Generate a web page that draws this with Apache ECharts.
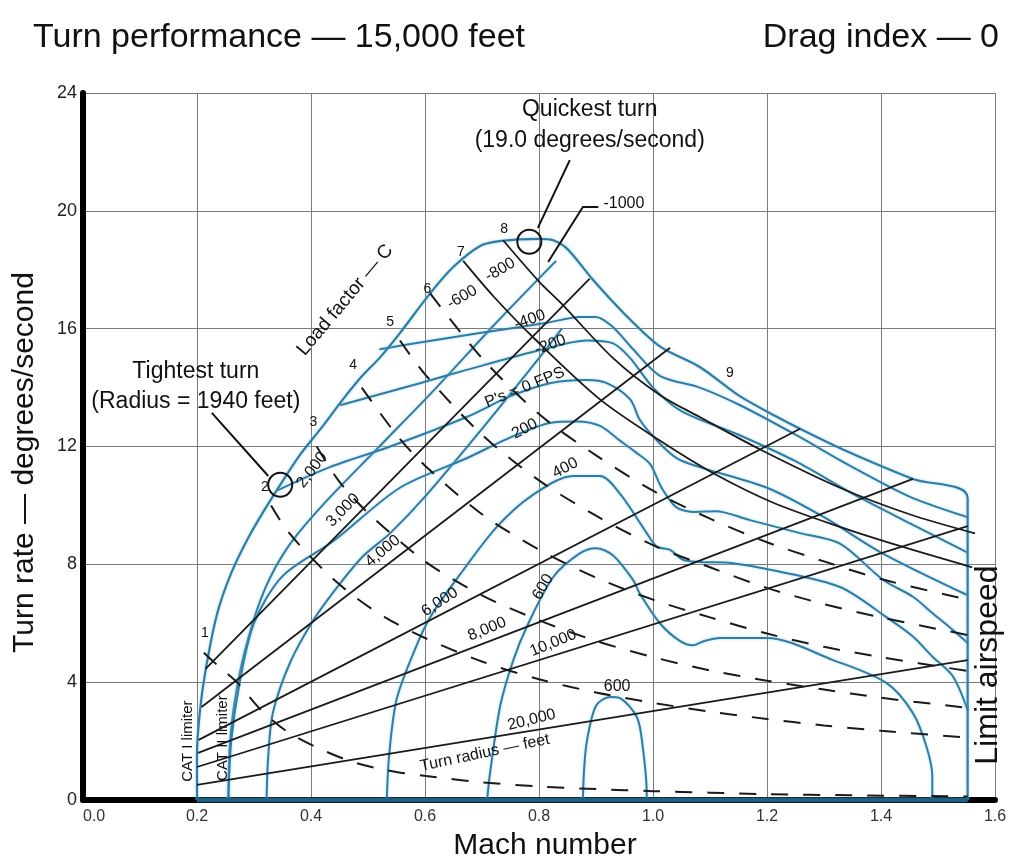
<!DOCTYPE html>
<html><head><meta charset="utf-8">
<script src="https://cdn.jsdelivr.net/npm/echarts/dist/echarts.min.js"></script>
<style>html,body{margin:0;padding:0;background:#fff}#chart{width:1014px;height:860px}</style>
</head><body><div id="chart"></div>
<script>
// Axis ticks
const machTicks = [0.0, 0.2, 0.4, 0.6, 0.8, 1.0, 1.2, 1.4, 1.6];
const rateTicks = [0, 4, 8, 12, 16, 20, 24];

// Maneuver envelope (lift limit, load-factor limit, limit airspeed)
const envelope = [[0.2,0],[0.2,1.5],[0.205,3],[0.215,4.4],[0.235,6.3],[0.26,7.7],[0.29,8.9],[0.32,9.9],[0.346,10.7],[0.38,11.7],[0.421,12.7],[0.456,13.6],[0.49,14.4],[0.52,15.0],[0.556,15.85],[0.609,17.2],[0.65,18.1],[0.696,18.8],[0.73,18.97],[0.8,19.05],[0.825,19.0],[0.85,18.7],[0.895,17.65],[0.95,16.5],[1.012,15.4],[1.082,14.7],[1.153,13.7],[1.218,13.0],[1.258,12.6],[1.333,11.9],[1.456,10.9],[1.552,10.25],[1.552,0]];
const floorLine = [[0.2,0],[1.552,0]];

// Specific excess power contours (ft/s)
const psM1000 = [[0.255,0],[0.258,2],[0.27,3.8],[0.29,5.5],[0.32,7.2],[0.36,8.6],[0.42,10.0],[0.52,12.0],[0.62,14.0],[0.72,16.1],[0.83,18.3]];
const psArc = [[0.322,0],[0.325,1.5],[0.333,2.95],[0.363,4.65],[0.404,6.1],[0.445,7.2],[0.49,8.25],[0.539,9.06],[0.6,10.3],[0.7,12.6],[0.8,15.0],[0.84,16.0]];
const psM400 = [[0.52,15.3],[0.58,15.5],[0.696,15.85],[0.814,16.2],[0.872,16.4],[0.9,16.4],[0.93,16.05],[0.965,15.3],[1.012,14.4],[1.082,14.0],[1.153,13.4],[1.25,12.4],[1.35,11.3],[1.45,10.3],[1.552,9.6]];
const psM200 = [[0.451,13.4],[0.591,14.15],[0.673,14.6],[0.807,15.3],[0.884,15.6],[0.93,15.5],[0.96,15.0],[1.0,14.0],[1.05,13.2],[1.15,12.4],[1.25,11.5],[1.35,10.4],[1.45,9.4],[1.552,8.4]];
const ps0 = [[0.34,10.5],[0.433,11.3],[0.539,12.0],[0.673,13.0],[0.749,13.7],[0.819,14.15],[0.884,14.26],[0.919,14.15],[0.96,13.6],[0.977,12.9],[1.012,12.1],[1.042,11.6],[1.082,11.3],[1.2,10.6],[1.3,9.6],[1.4,8.4],[1.552,6.95]];
const ps200 = [[0.255,0],[0.26,2],[0.275,4],[0.3,6.0],[0.35,7.6],[0.44,8.8],[0.556,10.6],[0.673,11.6],[0.749,12.3],[0.819,12.8],[0.867,12.85],[0.907,12.7],[0.942,12.2],[0.97,11.8],[0.995,11.4],[1.015,10.6],[1.04,9.95],[1.07,9.78],[1.11,9.8],[1.17,9.5],[1.258,9.06],[1.328,8.7],[1.404,7.47],[1.456,6.9],[1.49,6.35],[1.526,5.77],[1.552,5.33]];
const ps400 = [[0.533,0],[0.537,1.5],[0.55,3.4],[0.58,5.0],[0.609,6.2],[0.667,7.8],[0.726,9.27],[0.785,10.3],[0.86,11.0],[0.907,11.0],[0.942,10.4],[0.989,9.06],[1.007,8.6],[1.03,8.49],[1.053,8.15],[1.082,8.08],[1.14,8.04],[1.21,7.8],[1.328,7.23],[1.41,6.2],[1.456,5.55],[1.49,4.87],[1.526,4.2],[1.552,3.05]];
const ps600 = [[0.709,0],[0.714,0.9],[0.732,3.2],[0.755,4.75],[0.779,5.9],[0.825,7.57],[0.872,8.38],[0.9,8.55],[0.93,8.3],[0.965,7.47],[0.977,7.0],[1.012,6.0],[1.047,5.4],[1.07,5.25],[1.09,5.4],[1.118,5.5],[1.2,5.5],[1.316,4.75],[1.41,3.97],[1.456,2.95],[1.48,1.8],[1.49,0.8],[1.49,0]];
const ps600b = [[0.877,0],[0.879,1.0],[0.884,2.0],[0.9,3.2],[0.925,3.5],[0.942,3.46],[0.972,2.8],[0.982,1.8],[0.989,0.2],[0.989,0]];

// Constant turn-radius lines (feet)
const radius3000 = [[0.215,4.45],[0.889,17.7]];
const radius4000 = [[0.208,3.16],[1.03,15.35]];
const radius6000 = [[0.203,2.04],[1.258,12.6]];
const radius8000 = [[0.202,1.6],[1.456,10.9]];
const radius10000 = [[0.2,1.12],[1.552,9.3]];
const radius20000 = [[0.2,0.51],[1.552,4.75]];

// Load factor lines
const load8 = [[0.737,19.0],[0.8,17.6],[0.837,16.9],[0.93,15.0],[1.012,13.75],[1.082,13.0],[1.188,11.9],[1.328,10.6],[1.45,9.7],[1.565,9.05]];
const load7 = [[0.667,18.3],[0.72,17.1],[0.79,15.7],[0.907,13.6],[1.012,12.2],[1.105,11.1],[1.21,10.1],[1.328,9.27],[1.428,8.65],[1.56,7.9]];
const load6 = [[0.609,17.2],[0.7,15.0],[0.8,13.1],[0.9,11.7],[1.0,10.5],[1.1,9.55],[1.2,8.75],[1.3,8.1],[1.4,7.5],[1.552,6.8]];
const load5 = [[0.556,15.6],[0.6,14.45],[0.7,12.4],[0.8,10.85],[0.9,9.65],[1.0,8.65],[1.1,7.9],[1.2,7.2],[1.3,6.65],[1.4,6.2],[1.552,5.6]];
const load4 = [[0.489,14.0],[0.55,12.4],[0.6,11.35],[0.7,9.7],[0.8,8.5],[0.9,7.55],[1.0,6.8],[1.1,6.2],[1.2,5.65],[1.3,5.2],[1.4,4.85],[1.552,4.38]];
const load3 = [[0.41,12.0],[0.45,10.8],[0.5,9.75],[0.6,8.1],[0.7,6.95],[0.8,6.1],[0.9,5.4],[1.0,4.85],[1.1,4.4],[1.2,4.05],[1.3,3.75],[1.4,3.47],[1.552,3.13]];
const load2 = [[0.33,10.0],[0.36,9.1],[0.42,7.85],[0.47,7.0],[0.53,6.2],[0.6,5.5],[0.7,4.7],[0.8,4.1],[0.9,3.65],[1.0,3.3],[1.1,3.0],[1.2,2.75],[1.3,2.53],[1.4,2.35],[1.552,2.12]];
const load1 = [[0.212,5.0],[0.24,4.5],[0.27,4.0],[0.31,3.1],[0.36,2.3],[0.42,1.7],[0.48,1.25],[0.55,0.95],[0.62,0.77],[0.7,0.6],[0.8,0.46],[0.9,0.37],[1.0,0.3],[1.1,0.25],[1.2,0.2],[1.35,0.16],[1.552,0.12]];

// Load factor numbers along the envelope
const loadLabels = [[0.214,5.67,'1'],[0.319,10.62,'2'],[0.404,12.83,'3'],[0.474,14.77,'4'],[0.539,16.23,'5'],[0.604,17.35,'6'],[0.663,18.6,'7'],[0.739,19.38,'8'],[1.135,14.49,'9']];

// In-plot captions: [mach, rate, text, rotation, size]
const captions = [
  [0.46,16.97,'Load factor — C',50,19],
  [0.402,11.2,'2,000',53],
  [0.456,9.84,'3,000',45],
  [0.526,8.45,'4,000',40],
  [0.626,6.72,'6,000',33],
  [0.709,5.8,'8,000',22],
  [0.825,5.33,'10,000',22],
  [0.787,2.72,'20,000',14],
  [0.705,1.6,'Turn radius — feet',12],
  [0.807,7.23,'600',60],
  [0.937,3.84,'600',0],
  [0.846,11.27,'400',28],
  [0.775,12.6,'200',28],
  [0.775,14.0,"P's = 0 FPS",22],
  [0.82,15.45,'-200',20],
  [0.784,16.3,'-400',20],
  [0.665,17.07,'-600',30],
  [0.732,18.0,'-800',30],
  [0.949,20.23,'-1000',0]
];
const sideCaptions = [
  [0.184,2.0,'CAT I limiter',90,15],
  [0.246,2.1,'CAT II limiter',90,15],
  [1.588,4.58,'Limit airspeed',90,32]
];
const notes = [
  [0.198,14.53,'Tightest turn'],
  [0.198,13.51,'(Radius = 1940 feet)'],
  [0.889,23.42,'Quickest turn'],
  [0.889,22.37,'(19.0 degrees/second)']
];
// Marked points: tightest turn and quickest turn
const marked = [[0.346,10.7],[0.783,18.95]];
// Leader arrows
const arrows = [
  [[0.226,13.14],[0.325,11.0]],
  [[0.854,21.72],[0.798,19.42]],
  [[0.904,20.13],[0.877,20.13],[0.816,18.26]]
];

const BLUE = '#2f7ca5';
const INK = '#111';
const FONT = '"Liberation Sans", Arial, sans-serif';

function curve(data, color, width, dashed, z) {
  return {
    type: 'line', data: data, showSymbol: false, symbol: 'none', smooth: 0.3,
    lineStyle: { color: color, width: width, type: dashed ? [17, 15] : 'solid',
      shadowColor: color === BLUE ? 'rgba(140,205,235,0.7)' : 'transparent', shadowBlur: color === BLUE ? 3 : 0 },
    z: z || 3, silent: true, animation: false
  };
}
function straight(data) {
  return { type: 'line', data: data, showSymbol: false, symbol: 'none',
    lineStyle: { color: '#1a1a1a', width: 1.8 }, z: 4, silent: true, animation: false };
}

const series = [];
[psM1000, psArc, psM400, psM200, ps0, ps200, ps400, ps600, ps600b].forEach(d => series.push(curve(d, BLUE, 2, false, 3)));
series.push(curve(envelope, BLUE, 2.2, false, 3));
[radius3000, radius4000, radius6000, radius8000, radius10000, radius20000].forEach(d => series.push(straight(d)));
[load8, load7].forEach(d => series.push(curve(d, '#1a1a1a', 1.8, false, 4)));
[load6, load5, load4, load3, load2, load1].forEach(d => series.push(curve(d, '#1a1a1a', 2, true, 4)));
series.push({ type: 'line', data: floorLine, showSymbol: false, symbol: 'none',
  lineStyle: { color: '#1f5f82', width: 5 }, z: 6, silent: true, animation: false });

function textSeries(items, size, z) {
  return {
    type: 'scatter', symbolSize: 0, z: z || 8, silent: true, animation: false,
    itemStyle: { opacity: 1 },
    data: items.map(t => ({ value: [t[0], t[1]], label: { show: true, formatter: t[2], rotate: t[3] || 0,
      fontSize: t[4] || size, color: INK, opacity: 1, fontFamily: FONT, position: 'inside' } }))
  };
}
series.push(textSeries(loadLabels, 14));
series.push(textSeries(captions, 16));
series.push(textSeries(sideCaptions, 15));
series.push(textSeries(notes, 23));

series.push({
  type: 'scatter', data: marked, symbol: 'circle', symbolSize: 24, z: 9, silent: true, animation: false,
  itemStyle: { color: 'rgba(255,255,255,0)', borderColor: INK, borderWidth: 2, opacity: 1 }
});
series.push({
  type: 'lines', coordinateSystem: 'cartesian2d', polyline: true, z: 9, silent: true, animation: false,
  symbol: ['none', 'arrow'], symbolSize: 11,
  lineStyle: { color: INK, width: 2, opacity: 1 },
  data: arrows.map(a => ({ coords: a }))
});

const chart = echarts.init(document.getElementById('chart'), null, { renderer: 'canvas' });
chart.setOption({
  backgroundColor: '#fff',
  animation: false,
  title: [
    { text: 'Turn performance — 15,000 feet', left: 28, top: 16, textStyle: { fontFamily: FONT, fontSize: 34, fontWeight: 'normal', color: INK } },
    { text: 'Drag index — 0', right: 10, top: 16, textStyle: { fontFamily: FONT, fontSize: 34, fontWeight: 'normal', color: INK } }
  ],
  grid: { left: 83, right: 19, top: 93, bottom: 60, containLabel: false, outerBoundsMode: 'none' },
  xAxis: {
    type: 'value', min: 0, max: 1.6, interval: 0.2,
    name: 'Mach number', nameLocation: 'middle', nameGap: 31,
    nameTextStyle: { fontFamily: FONT, fontSize: 30, color: INK, padding: [0, 0, 0, 12] },
    axisLine: { lineStyle: { color: '#000', width: 6 } },
    axisTick: { show: false },
    axisLabel: { fontFamily: FONT, fontSize: 16, color: '#333', margin: 9, alignMinLabel: 'left',
      formatter: v => machTicks.includes(+v.toFixed(1)) ? v.toFixed(1) : '' },
    splitLine: { show: true, lineStyle: { color: '#7a7a7a', width: 1 } }
  },
  yAxis: {
    type: 'value', min: 0, max: 24, interval: 4,
    name: 'Turn rate — degrees/second', nameLocation: 'middle', nameGap: 43, nameRotate: 90,
    nameTextStyle: { fontFamily: FONT, fontSize: 30, color: INK, padding: [0, 32, 0, 0] },
    axisLine: { show: true, lineStyle: { color: '#000', width: 6 } },
    axisTick: { show: false },
    axisLabel: { fontFamily: FONT, fontSize: 18, color: '#222', margin: 6,
      formatter: v => rateTicks.includes(v) ? String(v) : '' },
    splitLine: { show: true, lineStyle: { color: '#7a7a7a', width: 1 } }
  },
  series: series
});
</script></body></html>
